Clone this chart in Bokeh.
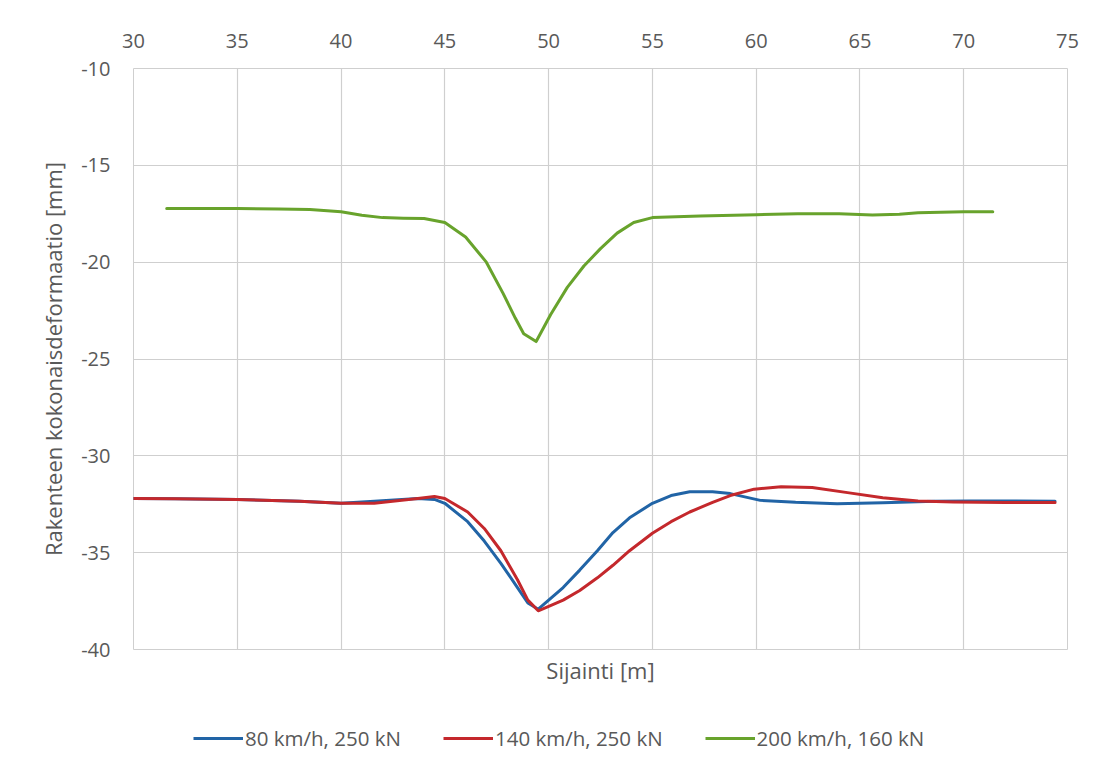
from bokeh.plotting import figure
from bokeh.models import Range1d, LinearAxis, FixedTicker, Legend, LegendItem
from bokeh.layouts import column
from bokeh.embed import file_html
from bokeh.resources import INLINE

# ---- data ----
x_ticks = [30, 35, 40, 45, 50, 55, 60, 65, 70, 75]
x_tick_labels = ["30", "35", "40", "45", "50", "55", "60", "65", "70", "75"]
y_ticks = [-10, -15, -20, -25, -30, -35, -40]
y_tick_labels = ["-10", "-15", "-20", "-25", "-30", "-35", "-40"]

blue_name = "80 km/h, 250 kN"
blue_x = [30, 32, 35, 38, 40, 41.6, 43.7, 44.5, 45, 46.1, 46.9, 47.7, 48.5, 49, 49.5,
          50.7, 51.5, 52.35, 53.1, 53.9, 55, 55.9, 56.8, 57.9, 58.75, 60.2, 61.9,
          63.9, 66.1, 68.6, 70.3, 72, 74.4]
blue_y = [-32.2, -32.22, -32.25, -32.35, -32.45, -32.35, -32.2, -32.25, -32.45, -33.4,
          -34.4, -35.55, -36.8, -37.6, -37.92, -36.8, -35.9, -34.9, -33.96, -33.2,
          -32.45, -32.05, -31.85, -31.85, -31.95, -32.3, -32.4, -32.47, -32.42,
          -32.35, -32.33, -32.33, -32.35]

red_name = "140 km/h, 250 kN"
red_x = [30, 32, 35, 38, 40, 41.6, 43.7, 44.5, 45, 46.1, 46.9, 47.7, 48.5, 49, 49.5,
         49.95, 50.7, 51.5, 52.35, 53.1, 53.9, 55, 55.9, 56.8, 57.9, 58.75, 59.9,
         61.2, 62.7, 64.4, 66.1, 67.8, 69.5, 72, 74.4]
red_y = [-32.2, -32.22, -32.25, -32.35, -32.45, -32.45, -32.2, -32.1, -32.2, -32.9,
         -33.75, -34.9, -36.4, -37.45, -38.0, -37.8, -37.45, -36.95, -36.3, -35.65,
         -34.9, -34.0, -33.4, -32.9, -32.4, -32.05, -31.72, -31.6, -31.64, -31.9,
         -32.16, -32.33, -32.38, -32.41, -32.41]

green_name = "200 km/h, 160 kN"
green_x = [31.6, 33, 35, 37, 38.5, 40, 41, 42, 43, 44, 45, 46, 47, 47.8, 48.4, 48.8,
           49.4, 50.1, 50.9, 51.7, 52.5, 53.3, 54.1, 55, 57.3, 60, 62, 64, 65.6,
           66.9, 67.8, 70, 71.4]
green_y = [-17.23, -17.23, -17.23, -17.25, -17.28, -17.4, -17.58, -17.7, -17.73,
           -17.75, -17.95, -18.7, -20.0, -21.6, -22.9, -23.7, -24.1, -22.7, -21.3,
           -20.2, -19.3, -18.5, -17.95, -17.7, -17.62, -17.55, -17.5, -17.5, -17.56,
           -17.52, -17.45, -17.4, -17.4]

series_names = [blue_name, red_name, green_name]
series_colors = ["#2164a6", "#c4282c", "#68a32c"]

x_title = "Sijainti [m]"
y_title = "Rakenteen kokonaisdeformaatio [mm]"

FONT = "Open Sans"
TXT = "#595959"
GRID = "#cfcfcf"
LW = 3

p = figure(width=1090, height=715, output_backend="svg", toolbar_location=None,
           x_range=Range1d(30, 75), y_range=Range1d(-40, -10),
           x_axis_location="above",
           min_border_left=133, min_border_top=68, min_border_right=23,
           min_border_bottom=66)
p.background_fill_color = "white"
p.border_fill_color = "white"
p.outline_line_color = GRID
p.outline_line_width = 1

# top axis with tick labels
xa = p.xaxis[0]
xa.ticker = FixedTicker(ticks=x_ticks)
xa.major_label_overrides = {t: s for t, s in zip(x_ticks, x_tick_labels)}
xa.axis_line_color = None
xa.major_tick_line_color = None
xa.minor_tick_line_color = None
xa.major_label_standoff = 15
xa.major_label_text_font = FONT
xa.major_label_text_font_size = "20px"
xa.major_label_text_color = TXT

ya = p.yaxis[0]
ya.ticker = FixedTicker(ticks=y_ticks)
ya.major_label_overrides = {t: s for t, s in zip(y_ticks, y_tick_labels)}
ya.axis_line_color = None
ya.major_tick_line_color = None
ya.minor_tick_line_color = None
ya.major_label_standoff = 17
ya.major_label_text_font = FONT
ya.major_label_text_font_size = "20px"
ya.major_label_text_color = TXT
ya.axis_label = y_title
ya.axis_label_standoff = 10
ya.axis_label_text_font = FONT
ya.axis_label_text_font_size = "22px"
ya.axis_label_text_font_style = "normal"
ya.axis_label_text_color = TXT

# bottom axis only for the title
xb = LinearAxis(ticker=FixedTicker(ticks=[]), axis_label=x_title)
xb.axis_line_color = None
xb.major_tick_line_color = None
xb.minor_tick_line_color = None
xb.axis_label_standoff = 5
xb.axis_label_text_font = FONT
xb.axis_label_text_font_size = "22px"
xb.axis_label_text_font_style = "normal"
xb.axis_label_text_color = TXT
p.add_layout(xb, "below")

p.xgrid.ticker = FixedTicker(ticks=x_ticks)
p.ygrid.ticker = FixedTicker(ticks=y_ticks)
p.xgrid.grid_line_color = GRID
p.ygrid.grid_line_color = GRID
p.xgrid.grid_line_width = 1.2
p.ygrid.grid_line_width = 1.2

series = [(blue_x, blue_y), (red_x, red_y), (green_x, green_y)]
for (sx, sy), c in zip(series, series_colors):
    p.line(sx, sy, line_color=c, line_width=LW, line_join="round", line_cap="round")

# legend strip below the chart (legend-only renderers hold a single NaN point)
lf = figure(width=1090, height=45, output_backend="svg", toolbar_location=None,
            x_axis_location=None, y_axis_location=None,
            min_border_left=0, min_border_right=0, min_border_top=0,
            min_border_bottom=0, x_range=Range1d(0, 1), y_range=Range1d(0, 1))
lf.outline_line_color = None
lf.grid.visible = False
lf.background_fill_color = "white"
lf.border_fill_color = "white"
items = []
nan = float("nan")
for name, c in zip(series_names, series_colors):
    r = lf.line([nan], [nan], line_color=c, line_width=LW)
    items.append(LegendItem(label=name, renderers=[r]))

legend = Legend(items=items, orientation="horizontal", location=(60, 8))
legend.border_line_color = None
legend.background_fill_alpha = 0
legend.margin = 0
legend.padding = 0
legend.spacing = 42
legend.glyph_width = 50
legend.glyph_height = 20
legend.label_standoff = 2
legend.label_text_font = FONT
legend.label_text_font_size = "20.5px"
legend.label_text_color = TXT
lf.add_layout(legend, "center")

layout = column(p, lf, spacing=0)
open("out.html", "w").write(file_html(layout, INLINE))
